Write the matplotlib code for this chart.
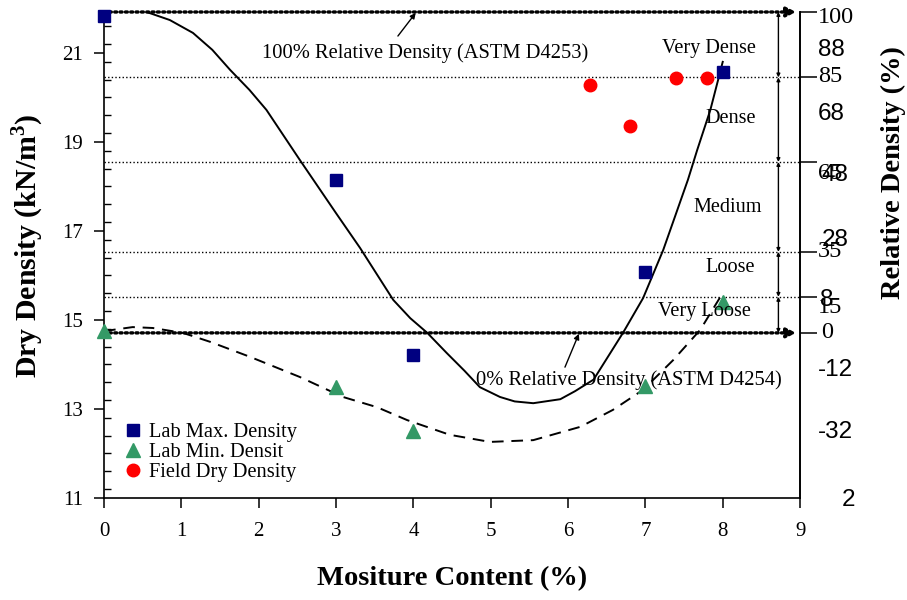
import matplotlib
matplotlib.use("Agg")
import matplotlib.pyplot as plt
from matplotlib.ticker import MultipleLocator, NullFormatter

plt.rcParams["font.family"] = ["Liberation Serif", "DejaVu Serif"]
plt.rcParams["mathtext.fontset"] = "custom"
plt.rcParams["mathtext.rm"] = "Liberation Serif"
plt.rcParams["mathtext.bf"] = "Liberation Serif:bold"

# Laboratory and field measurements
moisture_max = [0, 3, 4, 7, 8]
lab_max_density = [21.82, 18.15, 14.21, 16.07, 20.58]
moisture_min = [0, 3, 4, 7, 8]
lab_min_density = [14.75, 13.49, 12.51, 13.52, 15.40]
moisture_field = [6.29, 6.80, 7.39, 7.80]
field_dry_density = [20.28, 19.36, 20.44, 20.44]

# Trend curve through maximum densities
max_curve_x = [0.55, 0.85, 1.15, 1.40, 1.63, 1.88, 2.10, 2.53, 3.00, 3.31, 3.74, 3.96, 4.18,
               4.43, 4.66, 4.86, 5.12, 5.31, 5.55, 5.90, 6.09, 6.33, 6.71, 6.97, 7.23, 7.38,
               7.55, 7.67, 7.84, 7.95, 8.00]
max_curve_y = [21.92, 21.74, 21.45, 21.07, 20.62, 20.17, 19.72, 18.60, 17.40, 16.62, 15.45,
               15.04, 14.71, 14.26, 13.86, 13.49, 13.27, 13.17, 13.13, 13.22, 13.40, 13.66,
               14.71, 15.49, 16.57, 17.31, 18.15, 18.82, 19.72, 20.46, 20.80]
# Trend curve through minimum densities
min_curve_x = [0.00, 0.37, 0.63, 1.02, 1.37, 1.89, 2.53, 3.09, 3.53, 3.92, 4.47,
               4.99, 5.55, 6.16, 6.58, 6.97, 7.36, 7.71, 7.97]
min_curve_y = [14.75, 14.84, 14.82, 14.71, 14.51, 14.17, 13.72, 13.27, 13.04, 12.75, 12.42,
               12.26, 12.30, 12.60, 12.98, 13.43, 14.10, 14.78, 15.52]

# Relative density boundaries (dry density values) and their labels
rd_levels = [21.92, 20.45, 18.55, 16.53, 15.52, 14.71]
rd_labels = ["100", "85", "65", "35", "15", "0"]
zone_names = ["Very Dense", "Dense", "Medium", "Loose", "Very Loose"]
secondary_labels = ["88", "68", "48", "28", "8", "-12", "-32", "2"]

fig = plt.figure(figsize=(9.07, 6.0), dpi=100)
ax = fig.add_axes([0.1147, 0.17, 0.7674, 0.81])
ax.set_xlim(0, 9)
ax.set_ylim(11, rd_levels[0])

# boundary lines
for lvl in rd_levels[1:-1]:
    ax.plot([0, 9], [lvl, lvl], color="black", lw=1.0, ls=(0, (1, 1.6)), zorder=1)
for lvl in (rd_levels[0], rd_levels[-1]):
    ax.annotate("", xy=(8.95, lvl), xytext=(0, lvl),
                arrowprops=dict(arrowstyle="-|>", color="black", lw=2.4,
                                linestyle=(0, (0.6, 1.0)), mutation_scale=14,
                                shrinkA=0, shrinkB=0), zorder=2, annotation_clip=False)

# double arrows between the boundaries
for lo, hi in zip(rd_levels[1:], rd_levels[:-1]):
    ax.annotate("", xy=(8.72, hi), xytext=(8.72, lo),
                arrowprops=dict(arrowstyle="<|-|>", color="black", lw=1.0,
                                mutation_scale=5, shrinkA=0, shrinkB=0),
                annotation_clip=False)

# fitted curves
ax.plot(max_curve_x, max_curve_y, color="black", lw=1.4, zorder=3, solid_joinstyle="round")
ax.plot(min_curve_x, min_curve_y, color="black", lw=1.4, ls=(0, (6, 4)), zorder=3)

# data points
ax.plot(moisture_max, lab_max_density, ls="none", marker="s", ms=8, color="#000080",
        label="Lab Max. Density", zorder=5, clip_on=False)
ax.plot(moisture_min, lab_min_density, ls="none", marker="^", ms=10, color="#339966",
        label="Lab Min. Densit", zorder=5, clip_on=False)
ax.plot(moisture_field, field_dry_density, ls="none", marker="o", ms=9, color="#FF0000",
        label="Field Dry Density", zorder=5)

# annotations
ax.text(2.04, 21.0, "100% Relative Density (ASTM D4253)", fontsize=14.8, va="center", ha="left")
ax.annotate("", xy=(4.03, 21.90), xytext=(3.80, 21.38),
            arrowprops=dict(arrowstyle="-|>", color="black", lw=1.0, mutation_scale=8,
                            shrinkA=0, shrinkB=0))
ax.text(4.81, 13.65, "0% Relative Density (ASTM D4254)", fontsize=14.8, va="center", ha="left",
        zorder=6)
ax.annotate("", xy=(6.14, 14.69), xytext=(5.96, 13.94),
            arrowprops=dict(arrowstyle="-|>", color="black", lw=1.0, mutation_scale=8,
                            shrinkA=0, shrinkB=0))

zone_pos = [(7.82, 21.11), (8.10, 19.52), (8.07, 17.52), (8.10, 16.19), (7.76, 15.18)]
for name, (zx, zy) in zip(zone_names, zone_pos):
    ax.text(zx, zy, name, fontsize=14.6, ha="center", va="center", zorder=6)

# axes styling
ax.spines["top"].set_visible(False)
for s in ("left", "bottom", "right"):
    ax.spines[s].set_linewidth(1.2)
ax.xaxis.set_major_locator(MultipleLocator(1))
ax.yaxis.set_major_locator(MultipleLocator(2))
ax.yaxis.set_minor_locator(MultipleLocator(0.4))
ax.yaxis.set_minor_formatter(NullFormatter())
ax.tick_params(axis="x", direction="out", length=7, width=1.1, labelsize=15, pad=10)
ax.tick_params(axis="y", which="major", direction="out", length=7, width=1.1, labelsize=15, pad=8)
ax.tick_params(axis="y", which="minor", direction="in", length=5, width=1.0)
ax.set_yticks([11, 13, 15, 17, 19, 21])

# right-hand relative density scale
rax = ax.twinx()
rax.set_ylim(ax.get_ylim())
rax.set_yticks(rd_levels)
rax.set_yticklabels([])
rax.tick_params(axis="y", direction="out", length=12, width=1.1)
for s in ("top", "left", "bottom"):
    rax.spines[s].set_visible(False)
rax.spines["right"].set_linewidth(1.2)

rd_label_pos = [(9.23, 21.79), (9.23, 20.46), (9.23, 18.30), (9.23, 16.53), (9.23, 15.29), (9.27, 14.71)]
for lab, (lx, ly) in zip(rd_labels, rd_label_pos):
    ax.text(lx, ly, lab, fontsize=17.5, ha="left", va="center", clip_on=False)
sec_pos = [(9.23, 21.07), (9.23, 19.63), (9.28, 18.26), (9.28, 16.80), (9.26, 15.45),
           (9.23, 13.88), (9.23, 12.48), (9.54, 10.96)]
for lab, (lx, ly) in zip(secondary_labels, sec_pos):
    ax.text(lx, ly, lab, fontsize=17.5, ha="left", va="center", clip_on=False,
            family="Liberation Sans")

# axis titles
ax.set_xlabel("Mositure Content (%)", fontsize=20.5, fontweight="bold", labelpad=18)
fig.text(0.031, 0.59, r"Dry Density (kN/m$^\mathbf{3}$)", rotation=90, fontsize=21.5,
         fontweight="bold", ha="center", va="center")
fig.text(0.985, 0.713, "Relative Density (%)", rotation=90, fontsize=20.5,
         fontweight="bold", ha="center", va="center")

leg = ax.legend(loc="upper left", bbox_to_anchor=(0.008, 0.172), frameon=False, fontsize=14.7,
                handletextpad=0.05, labelspacing=0.05, handlelength=1.5, borderaxespad=0)

fig.savefig("out.png", dpi=100)
